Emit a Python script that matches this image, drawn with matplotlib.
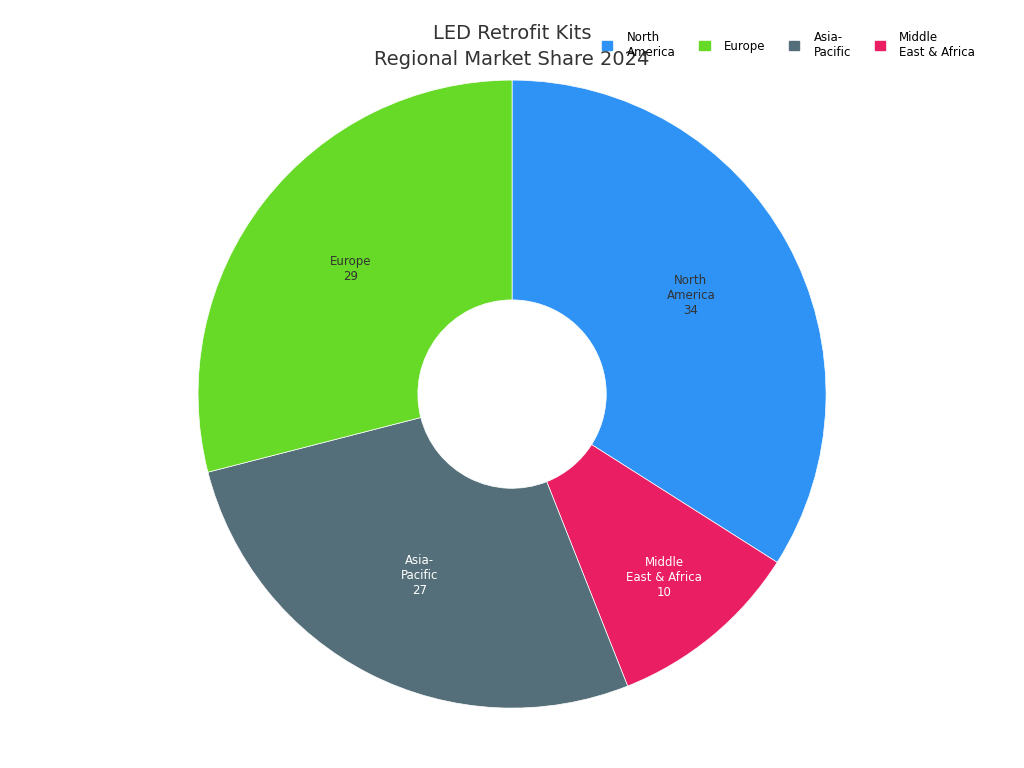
import matplotlib
matplotlib.use("Agg")
import matplotlib.pyplot as plt
from matplotlib.patches import Patch

regions = ["North\nAmerica", "Middle\nEast & Africa", "Asia-\nPacific", "Europe"]
shares = [34, 10, 27, 29]
colors = ["#2E93F5", "#E91E63", "#546E7A", "#66DA26"]
text_colors = ["#333333", "white", "white", "#333333"]

legend_labels = ["North\nAmerica", "Europe", "Asia-\nPacific", "Middle\nEast & Africa"]
legend_colors = ["#2E93F5", "#66DA26", "#546E7A", "#E91E63"]

fig = plt.figure(figsize=(10.24, 7.68), dpi=100)
ax = fig.add_axes([0.1934, 0.078, 0.6133, 0.8177])
wedges, texts = ax.pie(shares, colors=colors, startangle=90, counterclock=False,
                       labels=[f"{r}\n{v}" for r, v in zip(regions, shares)],
                       labeldistance=0.65, radius=1.0,
                       wedgeprops=dict(width=0.7, edgecolor="white", linewidth=0.5),
                       textprops=dict(fontsize=8.5, ha="center", va="center", multialignment="center"))
for t, c in zip(texts, text_colors):
    t.set_color(c)
# the small slice's label sits further out
x, y = texts[1].get_position()
texts[1].set_position((x * 0.76 / 0.65, y * 0.76 / 0.65))
ax.set_aspect("equal")
ax.set_xlim(-1, 1); ax.set_ylim(-1, 1)

fig.text(0.5, 0.957, "LED Retrofit Kits", ha="center", va="center", fontsize=14, color="#333333")
fig.text(0.5, 0.923, "Regional Market Share 2024", ha="center", va="center", fontsize=14, color="#333333")

handles = [Patch(facecolor=c, edgecolor=c) for c in legend_colors]
fig.legend(handles, legend_labels, loc="center", bbox_to_anchor=(0.77, 0.942), ncol=4,
           frameon=False, fontsize=8.5, handlelength=0.9, handleheight=0.9,
           columnspacing=2.0, handletextpad=1.2)
fig.savefig("out.png", dpi=100, facecolor="white")
